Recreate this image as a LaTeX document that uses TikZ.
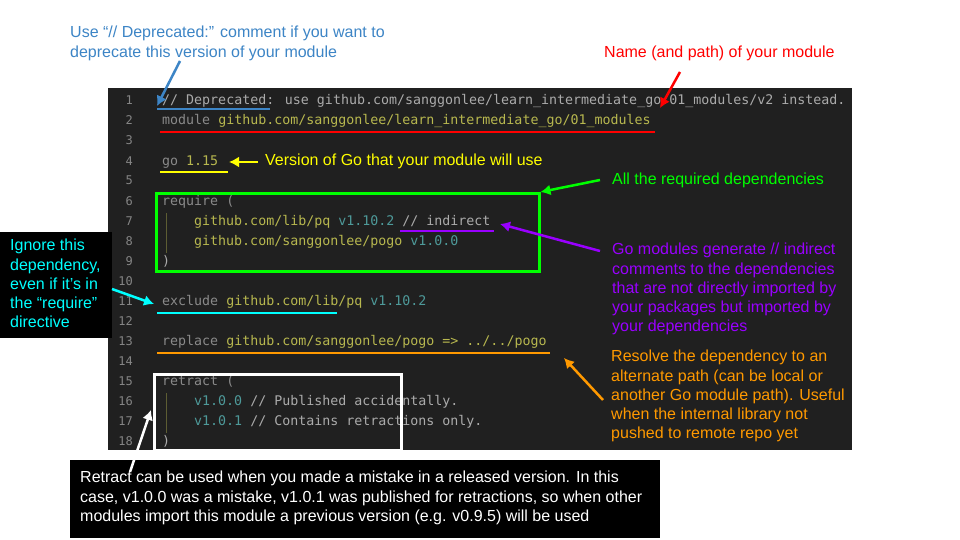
\documentclass[tikz,border=0pt]{standalone}
\usepackage{fontspec}
\setmainfont{Liberation Sans}
\newfontfamily\codefont{DejaVu Sans Mono}
\definecolor{bgc}{HTML}{202020}
\definecolor{lnum}{HTML}{858585}
\definecolor{kw}{HTML}{8A8A8A}
\definecolor{pth}{HTML}{B8B84F}
\definecolor{ver}{HTML}{4E9A9A}
\definecolor{cmt}{HTML}{ABABAB}
\definecolor{ablue}{HTML}{3D85C6}
\definecolor{ared}{HTML}{FF0000}
\definecolor{ayel}{HTML}{FFFF00}
\definecolor{agreen}{HTML}{00FF00}
\definecolor{apurp}{HTML}{9900FF}
\definecolor{acyan}{HTML}{00FFFF}
\definecolor{aorange}{HTML}{FF9900}
\tikzset{
  x=1pt,y=-1pt,
  code/.style={anchor=base west,inner sep=0,font=\codefont\fontsize{13.3}{14}\selectfont,text=cmt},
  ln/.style={anchor=base east,inner sep=0,font=\codefont\fontsize{12}{14}\selectfont,text=lnum},
  note/.style={anchor=north west,inner sep=0,align=left,font=\fontsize{16}{19.3}\selectfont},
  uline/.style={line width=2.5pt},
  arr/.style={line width=2.5pt,-{Latex[length=10pt,width=11pt]}},
}
\usetikzlibrary{arrows.meta}
\begin{document}
\begin{tikzpicture}
\useasboundingbox (0,0) rectangle (960,540);
\fill[white] (0,0) rectangle (960,540);
\fill[bgc] (108,88) rectangle (852,450);
\foreach \i in {1,...,18}{
  \node[ln] (n\i) at (133,{100+(\i-1)*20+5}) {\i};
}
\draw[pth!40!bgc,line width=0.8pt] (166,213) -- (166,253);
\draw[pth!40!bgc,line width=0.8pt] (166,393) -- (166,433);
\node[code] (c1) at (162,105) {// Deprecated: use github.com/sanggonlee/learn\_intermediate\_go/01\_modules/v2 instead.};
\node[code] (c2) at (162,125) {\textcolor{kw}{module} \textcolor{pth}{github.com/sanggonlee/learn\_intermediate\_go/01\_modules}};
\node[code] (c4) at (162,165) {\textcolor{kw}{go} \textcolor{pth}{1.15}};
\node[code] (c6) at (162,205) {\textcolor{kw}{require (}};
\node[code] (c7) at (194,225) {\textcolor{pth}{github.com/lib/pq} \textcolor{ver}{v1.10.2} // indirect};
\node[code] (c8) at (194,245) {\textcolor{pth}{github.com/sanggonlee/pogo} \textcolor{ver}{v1.0.0}};
\node[code] (c9) at (162,265) {)};
\node[code] (c11) at (162,305) {\textcolor{kw}{exclude} \textcolor{pth}{github.com/lib/pq} \textcolor{ver}{v1.10.2}};
\node[code] (c13) at (162,345) {\textcolor{kw}{replace} \textcolor{pth}{github.com/sanggonlee/pogo} \textcolor{pth}{=> ../../pogo}};
\node[code] (c15) at (162,385) {\textcolor{kw}{retract (}};
\node[code] (c16) at (194,405) {\textcolor{ver}{v1.0.0} // Published accidentally.};
\node[code] (c17) at (194,425) {\textcolor{ver}{v1.0.1} // Contains retractions only.};
% blue
\node[note,text=ablue] (tb) at (70,26) {Use “// Deprecated:” comment if you want to\\deprecate this version of your module};
\draw[ablue,uline] (157,109) -- (270,109);
\coordinate (ab) at (180,61);
\draw[ablue,arr] (ab) -- (157,106);
% red
\node[note,text=ared] (tr) at (604,46) {Name (and path) of your module};
\draw[ared,uline] (160,132) -- (655,132);
\coordinate (ar) at (680,72);
\draw[ared,arr] (ar) -- (660,108);
% yellow
\draw[ayel,uline] (160,172) -- (228,172);
\node[note,text=ayel] (ty) at (265,154) {Version of Go that your module will use};
\draw[ayel,arr] (258,162) -- (229,162);
% green
\node[draw=agreen,line width=2.5pt,minimum width=383pt,minimum height=78pt,anchor=north west,inner sep=0] (gb) at (155,192) {};
\node[note,text=agreen] (tg) at (612,173) {All the required dependencies};
\draw[agreen,arr] (600,180) -- (gb.north east);
% purple
\draw[apurp,uline] (400,231) -- (494,231);
\node[note,text=apurp] (tp) at (612,243) {Go modules generate // indirect\\comments to the dependencies\\that are not directly imported by\\your packages but imported by\\your dependencies};
\draw[apurp,arr] (600,251) -- (500,224);
% cyan
\node[fill=black,minimum width=112pt,minimum height=106pt,anchor=north west,inner sep=0] (kb) at (0,232) {};
\node[note,text=acyan] (tc) at (10,239) {Ignore this\\dependency,\\even if it’s in\\the “require”\\directive};
\draw[acyan,uline] (157,313) -- (337,313);
\draw[acyan,arr] (112,289) -- (154,304);
% orange
\draw[aorange,uline] (157,353) -- (550,353);
\node[note,text=aorange] (to) at (611,350) {Resolve the dependency to an\\alternate path (can be local or\\another Go module path). Useful\\when the internal library not\\pushed to remote repo yet};
\draw[aorange,arr] (603,400) -- (564,358);
% white
\node[draw=white,line width=2.5pt,minimum width=247pt,minimum height=76pt,anchor=north west,inner sep=0] (wb) at (153,373) {};
\node[code] (c18) at (162,445) {)};
\node[fill=black,minimum width=590pt,minimum height=78pt,anchor=north west,inner sep=0] (bb) at (70,460) {};
\node[note,text=white] (tw) at (80,471) {Retract can be used when you made a mistake in a released version. In this\\case, v1.0.0 was a mistake, v1.0.1 was published for retractions, so when other\\modules import this module a previous version (e.g. v0.9.5) will be used};
\draw[white,arr] (130,472) -- (151,410);
\end{tikzpicture}
\end{document}
